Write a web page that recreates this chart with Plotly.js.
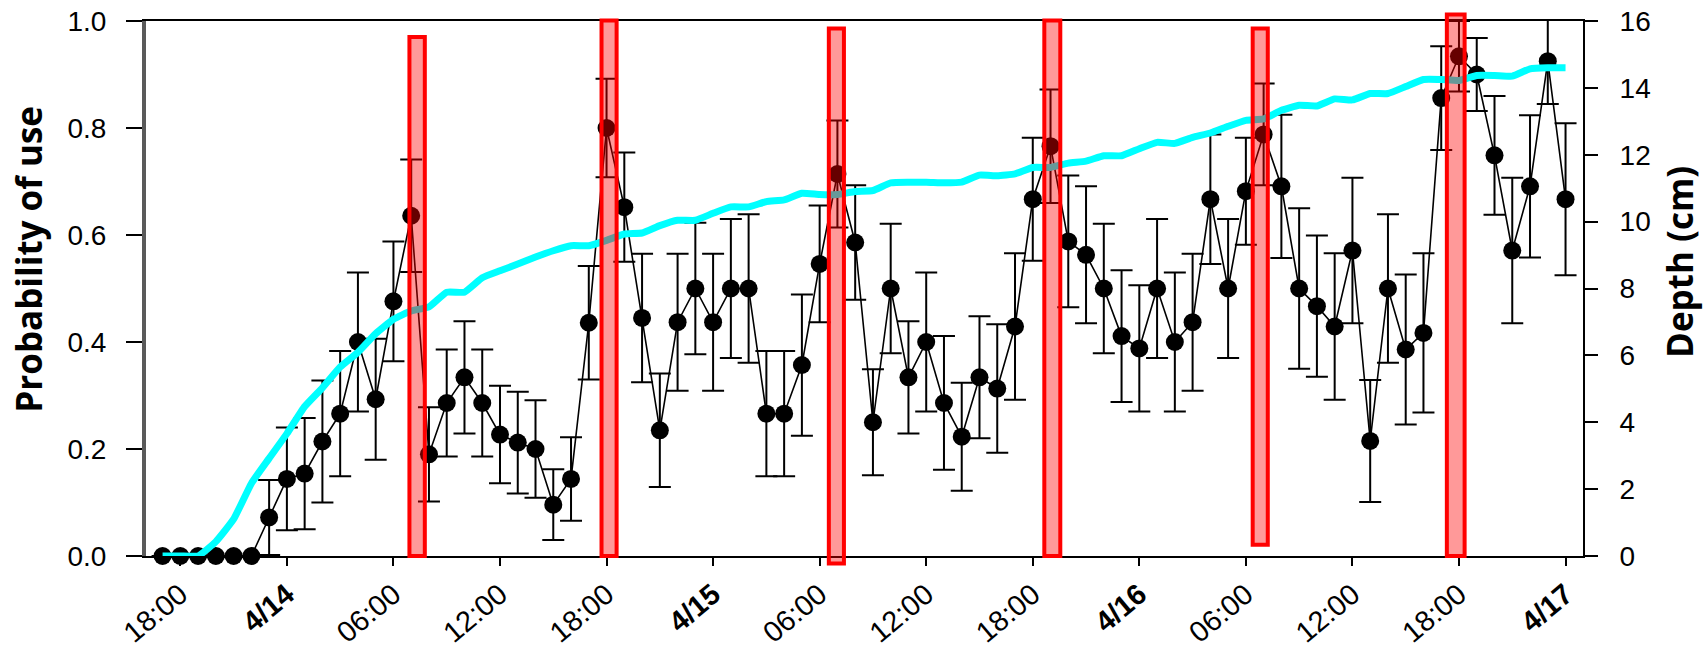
<!DOCTYPE html>
<html>
<head>
<meta charset="utf-8">
<script src="https://cdn.plot.ly/plotly-3.0.1.min.js"></script>
<style>html,body{margin:0;padding:0;background:#fff;}#chart{width:1707px;height:653px;}</style>
</head>
<body>
<div id="chart"></div>
<script>
// Hourly sample times
const times = [
 '2013-04-13 17:00','2013-04-13 18:00','2013-04-13 19:00','2013-04-13 20:00','2013-04-13 21:00','2013-04-13 22:00','2013-04-13 23:00',
 '2013-04-14 00:00','2013-04-14 01:00','2013-04-14 02:00','2013-04-14 03:00','2013-04-14 04:00','2013-04-14 05:00','2013-04-14 06:00','2013-04-14 07:00',
 '2013-04-14 08:00','2013-04-14 09:00','2013-04-14 10:00','2013-04-14 11:00','2013-04-14 12:00','2013-04-14 13:00','2013-04-14 14:00','2013-04-14 15:00',
 '2013-04-14 16:00','2013-04-14 17:00','2013-04-14 18:00','2013-04-14 19:00','2013-04-14 20:00','2013-04-14 21:00','2013-04-14 22:00','2013-04-14 23:00',
 '2013-04-15 00:00','2013-04-15 01:00','2013-04-15 02:00','2013-04-15 03:00','2013-04-15 04:00','2013-04-15 05:00','2013-04-15 06:00','2013-04-15 07:00',
 '2013-04-15 08:00','2013-04-15 09:00','2013-04-15 10:00','2013-04-15 11:00','2013-04-15 12:00','2013-04-15 13:00','2013-04-15 14:00','2013-04-15 15:00',
 '2013-04-15 16:00','2013-04-15 17:00','2013-04-15 18:00','2013-04-15 19:00','2013-04-15 20:00','2013-04-15 21:00','2013-04-15 22:00','2013-04-15 23:00',
 '2013-04-16 00:00','2013-04-16 01:00','2013-04-16 02:00','2013-04-16 03:00','2013-04-16 04:00','2013-04-16 05:00','2013-04-16 06:00','2013-04-16 07:00',
 '2013-04-16 08:00','2013-04-16 09:00','2013-04-16 10:00','2013-04-16 11:00','2013-04-16 12:00','2013-04-16 13:00','2013-04-16 14:00','2013-04-16 15:00',
 '2013-04-16 16:00','2013-04-16 17:00','2013-04-16 18:00','2013-04-16 19:00','2013-04-16 20:00','2013-04-16 21:00','2013-04-16 22:00','2013-04-16 23:00',
 '2013-04-17 00:00'
];

// Probability of use (left axis)
const probability = [
 0,0,0,0,0,0,0.072,
 0.144,0.154,0.214,0.266,0.40,0.293,0.476,0.636,
 0.19,0.286,0.334,0.286,0.227,0.212,0.20,0.096,
 0.144,0.436,0.80,0.652,0.445,0.235,0.437,0.50,
 0.437,0.50,0.50,0.266,0.266,0.357,0.546,0.714,
 0.586,0.25,0.50,0.334,0.40,0.286,0.223,0.334,
 0.313,0.429,0.667,0.766,0.588,0.563,0.50,0.411,
 0.388,0.50,0.40,0.437,0.667,0.50,0.682,0.788,
 0.691,0.50,0.467,0.429,0.571,0.215,0.50,0.386,
 0.417,0.856,0.934,0.90,0.749,0.571,0.691,0.925,
 0.667
];

// Error bar half-lengths
const probError = [
 0,0,0,0,0,0,0.07,
 0.096,0.104,0.114,0.117,0.13,0.113,0.112,0.105,
 0.088,0.10,0.105,0.10,0.091,0.095,0.091,0.066,
 0.078,0.106,0.092,0.102,0.12,0.106,0.128,0.123,
 0.128,0.13,0.139,0.117,0.117,0.132,0.109,0.10,
 0.107,0.099,0.121,0.105,0.13,0.125,0.101,0.114,
 0.12,0.137,0.115,0.106,0.123,0.128,0.121,0.123,
 0.118,0.13,0.13,0.128,0.121,0.13,0.10,0.095,
 0.134,0.15,0.132,0.137,0.136,0.114,0.139,0.14,
 0.149,0.097,0.066,0.068,0.111,0.136,0.133,0.08,
 0.142
];

// Depth (cm, right axis)
const depth = [
 0,0,0,0.43,1.1,2.17,2.92,
 3.66,4.47,5.03,5.65,6.09,6.65,7.08,7.33,
 7.45,7.89,7.89,8.32,8.53,8.73,8.94,9.13,
 9.28,9.28,9.44,9.63,9.66,9.88,10.04,10.04,
 10.25,10.44,10.44,10.6,10.65,10.85,10.81,10.81,
 10.9,10.93,11.16,11.18,11.18,11.16,11.18,11.39,
 11.37,11.43,11.62,11.62,11.75,11.81,11.97,11.97,
 12.18,12.37,12.34,12.52,12.65,12.85,13.03,13.07,
 13.33,13.48,13.46,13.67,13.64,13.83,13.83,14.04,
 14.25,14.25,14.22,14.37,14.37,14.35,14.57,14.6,
 14.6
];

// Highlighted periods (red boxes)
const hlStart  = ['2013-04-14 06:54','2013-04-14 17:43','2013-04-15 06:31','2013-04-15 18:39','2013-04-16 06:23','2013-04-16 17:19'];
const hlEnd    = ['2013-04-14 07:46','2013-04-14 18:34','2013-04-15 07:22','2013-04-15 19:33','2013-04-16 07:14','2013-04-16 18:19'];
const hlBottom = [0, 0, -0.014, 0, 0.021, 0];
const hlTop    = [0.970, 1.001, 0.986, 1.001, 0.986, 1.012];

// Tick positions/labels
const xTickVals = ['2013-04-13 18:00','2013-04-14 00:00','2013-04-14 06:00','2013-04-14 12:00','2013-04-14 18:00',
  '2013-04-15 00:00','2013-04-15 06:00','2013-04-15 12:00','2013-04-15 18:00',
  '2013-04-16 00:00','2013-04-16 06:00','2013-04-16 12:00','2013-04-16 18:00','2013-04-17 00:00'];
const xTickText = ['18:00','<b>4/14</b>','06:00','12:00','18:00','<b>4/15</b>','06:00','12:00','18:00',
  '<b>4/16</b>','06:00','12:00','18:00','<b>4/17</b>'];

const tickFont = {family: 'Liberation Sans, Arial, sans-serif', size: 28, color: '#000'};
const xTickFont = {family: 'Liberation Sans, Arial, sans-serif', size: 29, color: '#000'};
const titleFont = {family: 'Open Sans, sans-serif', size: 35, color: '#000', weight: 700};

const traces = [
  {
    x: times, y: probability, type: 'scatter', mode: 'lines+markers',
    line: {color: '#000', width: 1.6},
    marker: {color: '#000', size: 18},
    error_y: {type: 'data', array: probError, visible: true, color: '#000', thickness: 2, width: 11},
    cliponaxis: false, yaxis: 'y', hoverinfo: 'skip'
  },
  {
    x: times, y: depth, type: 'scatter', mode: 'lines',
    line: {color: '#00FFFF', width: 7, shape: 'spline', smoothing: 0.4},
    cliponaxis: false, yaxis: 'y2', hoverinfo: 'skip'
  }
];

const shapes = hlStart.map((s, i) => ({
  type: 'rect', xref: 'x', yref: 'paper',
  x0: s, x1: hlEnd[i], y0: hlBottom[i], y1: hlTop[i],
  fillcolor: 'rgba(255,0,0,0.4)', line: {color: '#FF0000', width: 4}, layer: 'above'
}));

const layout = {
  width: 1707, height: 653,
  margin: {l: 146, r: 124, t: 21, b: 97},
  paper_bgcolor: '#fff', plot_bgcolor: '#fff',
  showlegend: false,
  xaxis: {
    type: 'date', range: ['2013-04-13 16:04', '2013-04-17 00:59'],
    tickmode: 'array', tickvals: xTickVals, ticktext: xTickText,
    tickangle: -40, tickfont: xTickFont,
    ticks: 'outside', ticklen: 8, tickwidth: 2, tickcolor: '#000',
    showline: true, linecolor: '#000', linewidth: 2, mirror: true,
    showgrid: false, zeroline: false, ticklabelstandoff: 0
  },
  yaxis: {
    range: [0, 1], tickvals: [0, 0.2, 0.4, 0.6, 0.8, 1.0], tickformat: '.1f',
    tickfont: tickFont, ticks: 'outside', ticklen: 16, tickwidth: 2, tickcolor: '#000',
    showline: true, linecolor: '#5a5a5a', linewidth: 4,
    showgrid: false, zeroline: false, ticklabelstandoff: 14
  },
  yaxis2: {
    range: [0, 16], tickvals: [0, 2, 4, 6, 8, 10, 12, 14, 16],
    overlaying: 'y', side: 'right',
    tickfont: tickFont, ticks: 'outside', ticklen: 13, tickwidth: 2, tickcolor: '#000',
    showline: true, linecolor: '#000', linewidth: 2,
    showgrid: false, zeroline: false, ticklabelstandoff: 16
  },
  shapes: shapes,
  annotations: [
    {text: 'Probability of use', xref: 'paper', yref: 'paper', x: -0.0814, y: 0.554,
     xanchor: 'center', yanchor: 'middle', textangle: -90, showarrow: false, font: titleFont},
    {text: 'Depth (cm)', xref: 'paper', yref: 'paper', x: 1.0673, y: 0.549,
     xanchor: 'center', yanchor: 'middle', textangle: -90, showarrow: false, font: titleFont}
  ]
};

Plotly.newPlot('chart', traces, layout, {displayModeBar: false, staticPlot: true});
</script>
</body>
</html>
